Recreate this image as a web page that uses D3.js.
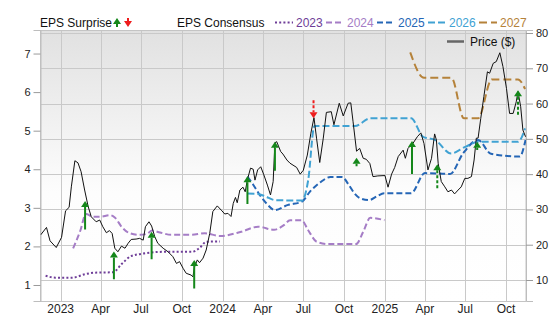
<!DOCTYPE html>
<html lang="en">
<head>
  <meta charset="UTF-8">
  <title>EPS Surprise / Consensus / Price</title>
  <style>
    body { margin: 0; background: #fff; }
    svg { display: block; font-family: "Liberation Sans", Arial, sans-serif; }
  </style>
</head>
<body>
  <svg id="chart" width="556" height="315"></svg>

  <script src="https://d3js.org/d3.v7.min.js"></script>
  <script>
    // price ($), right axis
    const price = [
      ["2022-11-17", 22.8], ["2022-11-30", 24.9], ["2022-12-08", 21.1], ["2022-12-22", 19.2],
      ["2023-01-03", 22.1], ["2023-01-12", 29.6], ["2023-01-20", 30.6], ["2023-01-25", 36.4],
      ["2023-02-02", 43.8], ["2023-02-09", 43.2], ["2023-02-16", 40.7], ["2023-02-24", 35.5],
      ["2023-03-04", 30.8], ["2023-03-11", 27.9], ["2023-03-22", 26.5], ["2023-03-30", 27.0],
      ["2023-04-06", 25.1], ["2023-04-14", 23.4], ["2023-04-21", 24.0], ["2023-04-27", 23.2],
      ["2023-05-03", 19.0], ["2023-05-10", 18.0], ["2023-05-18", 19.6], ["2023-05-26", 19.0],
      ["2023-06-02", 20.4], ["2023-06-09", 21.5], ["2023-06-20", 21.6], ["2023-06-28", 21.8],
      ["2023-07-06", 21.3], ["2023-07-11", 25.1], ["2023-07-19", 26.5], ["2023-07-25", 25.3],
      ["2023-08-01", 22.3], ["2023-08-08", 20.4], ["2023-08-20", 19.0], ["2023-08-31", 18.0],
      ["2023-09-11", 16.6], ["2023-09-19", 14.7], ["2023-09-26", 15.2], ["2023-10-04", 13.3],
      ["2023-10-11", 11.9], ["2023-10-22", 11.4], ["2023-10-26", 10.9], ["2023-10-30", 13.8],
      ["2023-11-05", 15.7], ["2023-11-10", 14.9], ["2023-11-18", 16.2], ["2023-11-25", 18.5],
      ["2023-12-03", 23.2], ["2023-12-10", 29.4], ["2023-12-20", 31.0], ["2023-12-29", 29.8],
      ["2024-01-06", 28.7], ["2024-01-13", 28.9], ["2024-01-20", 28.0], ["2024-01-25", 31.7],
      ["2024-01-30", 33.4], ["2024-02-03", 31.9], ["2024-02-09", 35.5], ["2024-02-16", 36.3],
      ["2024-02-21", 35.0], ["2024-02-26", 38.5], ["2024-03-04", 41.7], ["2024-03-10", 41.4],
      ["2024-03-14", 38.3], ["2024-03-20", 41.2], ["2024-03-27", 42.1], ["2024-04-03", 39.8],
      ["2024-04-11", 36.9], ["2024-04-18", 34.1], ["2024-04-24", 37.9], ["2024-04-28", 48.9],
      ["2024-05-02", 49.2], ["2024-05-11", 46.4], ["2024-05-16", 45.7], ["2024-05-25", 44.0],
      ["2024-06-01", 43.1], ["2024-06-16", 41.9], ["2024-06-24", 40.0], ["2024-07-01", 41.1],
      ["2024-07-10", 45.4], ["2024-07-18", 51.6], ["2024-07-25", 56.0], ["2024-07-31", 50.0],
      ["2024-08-07", 43.3], ["2024-08-15", 50.2], ["2024-08-22", 57.5], ["2024-09-02", 57.7],
      ["2024-09-08", 54.0], ["2024-09-20", 60.1], ["2024-09-29", 56.5], ["2024-10-10", 60.1],
      ["2024-10-16", 60.2], ["2024-10-21", 55.0], ["2024-10-29", 46.5], ["2024-11-05", 47.3],
      ["2024-11-13", 44.5], ["2024-11-20", 44.2], ["2024-11-28", 43.0], ["2024-12-05", 39.3],
      ["2024-12-16", 39.5], ["2025-01-01", 39.6], ["2025-01-08", 36.3], ["2025-01-16", 40.0],
      ["2025-01-23", 41.9], ["2025-01-31", 45.0], ["2025-02-11", 46.8], ["2025-02-16", 44.5],
      ["2025-02-22", 47.3], ["2025-03-05", 48.7], ["2025-03-15", 50.6], ["2025-03-23", 51.7],
      ["2025-03-30", 48.7], ["2025-04-08", 41.2], ["2025-04-16", 44.5], ["2025-04-23", 51.4],
      ["2025-04-27", 49.7], ["2025-05-01", 43.1], ["2025-05-08", 37.9], ["2025-05-16", 36.4],
      ["2025-05-23", 35.0], ["2025-05-31", 35.5], ["2025-06-07", 34.4], ["2025-06-15", 35.5],
      ["2025-06-22", 36.4], ["2025-06-30", 38.8], ["2025-07-07", 38.8], ["2025-07-15", 39.3],
      ["2025-07-21", 44.0], ["2025-07-26", 50.2], ["2025-07-30", 50.2], ["2025-08-05", 55.8],
      ["2025-08-12", 62.0], ["2025-08-20", 69.0], ["2025-08-25", 68.6], ["2025-09-02", 71.4],
      ["2025-09-09", 71.9], ["2025-09-17", 74.4], ["2025-09-24", 70.5], ["2025-10-02", 64.3],
      ["2025-10-09", 57.2], ["2025-10-17", 57.2], ["2025-10-24", 60.5], ["2025-10-28", 63.4],
      ["2025-11-03", 59.1], ["2025-11-08", 52.5], ["2025-11-14", 50.6]
    ];

    // EPS consensus per fiscal year, left axis
    const cons2023 = [
      ["2022-11-28", 1.24], ["2022-12-20", 1.19], ["2023-01-27", 1.19], ["2023-02-25", 1.28],
      ["2023-03-19", 1.32], ["2023-04-29", 1.33], ["2023-05-19", 1.55], ["2023-06-09", 1.75],
      ["2023-07-10", 1.82], ["2023-08-20", 1.86], ["2023-10-24", 1.86], ["2023-11-11", 1.97],
      ["2023-11-25", 2.12], ["2023-12-26", 2.13]
    ];
    const cons2024 = [
      ["2023-01-29", 1.95], ["2023-02-14", 2.40], ["2023-02-27", 2.84], ["2023-03-15", 2.77],
      ["2023-03-31", 2.77], ["2023-04-22", 2.81], ["2023-05-03", 2.75], ["2023-05-19", 2.50],
      ["2023-06-06", 2.34], ["2023-06-29", 2.30], ["2023-07-15", 2.33], ["2023-07-26", 2.41],
      ["2023-08-13", 2.36], ["2023-09-07", 2.30], ["2023-10-22", 2.30], ["2023-11-22", 2.34],
      ["2023-12-26", 2.27], ["2024-02-12", 2.38], ["2024-03-21", 2.51], ["2024-04-26", 2.43],
      ["2024-05-19", 2.56], ["2024-06-01", 2.68], ["2024-06-27", 2.68], ["2024-07-12", 2.42],
      ["2024-07-31", 2.12], ["2024-08-26", 2.06], ["2024-10-28", 2.06], ["2024-11-13", 2.38],
      ["2024-11-29", 2.74], ["2024-12-31", 2.68]
    ];
    const cons2025 = [
      ["2024-02-26", 3.81], ["2024-03-10", 3.60], ["2024-03-25", 3.33], ["2024-04-10", 3.10],
      ["2024-04-28", 2.94], ["2024-05-26", 3.07], ["2024-06-28", 3.16], ["2024-07-16", 3.42],
      ["2024-08-08", 3.66], ["2024-08-31", 3.80], ["2024-09-27", 3.80], ["2024-10-10", 3.62],
      ["2024-10-24", 3.38], ["2024-11-06", 3.25], ["2024-11-26", 3.20], ["2024-12-14", 3.30],
      ["2024-12-30", 3.38], ["2025-03-01", 3.38], ["2025-04-01", 3.90], ["2025-05-28", 3.88],
      ["2025-06-26", 4.41], ["2025-07-30", 4.76], ["2025-08-28", 4.40], ["2025-11-01", 4.33],
      ["2025-11-14", 4.76]
    ];
    const cons2026 = [
      ["2024-02-26", 3.37], ["2024-03-21", 3.36], ["2024-04-06", 3.30], ["2024-04-28", 3.20],
      ["2024-06-28", 3.19], ["2024-07-12", 3.72], ["2024-07-26", 5.12], ["2024-10-25", 5.12],
      ["2024-11-29", 5.32], ["2025-03-01", 5.32], ["2025-03-28", 4.84], ["2025-04-24", 4.76],
      ["2025-05-30", 4.41], ["2025-07-01", 4.58], ["2025-07-30", 4.71], ["2025-10-28", 4.71],
      ["2025-11-13", 5.06]
    ];
    const cons2027 = [
      ["2025-02-27", 7.03], ["2025-03-30", 6.37], ["2025-05-31", 6.37], ["2025-06-28", 5.32],
      ["2025-07-30", 5.32], ["2025-08-30", 6.33], ["2025-10-28", 6.33], ["2025-11-13", 6.08]
    ];

    // EPS surprise arrows: date, from, to, estimated (dashed)
    const surprises = [
      ["2023-02-25", 2.44, 3.18, false], ["2023-05-01", 1.15, 1.87, false],
      ["2023-07-25", 1.67, 2.38, false], ["2023-10-29", 0.91, 1.65, false],
      ["2024-02-26", 3.10, 3.82, false], ["2024-04-28", 3.96, 4.71, false],
      ["2024-07-24", 5.79, 5.32, true],  ["2024-10-29", 4.08, 4.30, false],
      ["2025-03-03", 3.88, 4.73, false], ["2025-04-29", 3.51, 4.13, true],
      ["2025-07-28", 4.50, 4.71, false], ["2025-10-28", 5.41, 6.05, true]
    ];

    const epsTicks = [1, 2, 3, 4, 5, 6, 7];
    const priceTicks = [10, 20, 30, 40, 50, 60, 70, 80];

    const series = [
      { name: "2023", data: cons2023, color: "#6e3d98", dash: "2,2.2" },
      { name: "2024", data: cons2024, color: "#a57dc6", dash: "6,3" },
      { name: "2025", data: cons2025, color: "#2566b6", dash: "6,3" },
      { name: "2026", data: cons2026, color: "#40a2d3", dash: "7,3" },
      { name: "2027", data: cons2027, color: "#b5823a", dash: "8,4" }
    ];

    const parse = d3.timeParse("%Y-%m-%d");
    const L = 40.5, R = 526, T = 30, B = 301;

    const x = d3.scaleTime()
      .domain([new Date(2022, 10, 16, 12), new Date(2025, 10, 15)])
      .range([L, R]);
    const yEps = d3.scaleLinear().domain([0.585, 7.61]).range([B, T]);
    const yPrice = d3.scaleLinear().domain([4.05, 80.85]).range([B, T]);

    const svg = d3.select("#chart");
    const defs = svg.append("defs");
    const grad = defs.append("linearGradient").attr("id", "bg")
      .attr("x1", 0).attr("y1", 0).attr("x2", 0).attr("y2", 1);
    grad.append("stop").attr("offset", "0%").attr("stop-color", "#e1e1e1");
    grad.append("stop").attr("offset", "60%").attr("stop-color", "#fdfdfd");
    grad.append("stop").attr("offset", "100%").attr("stop-color", "#ffffff");
    defs.append("clipPath").attr("id", "clip")
      .append("rect").attr("x", L).attr("y", T).attr("width", R - L).attr("height", B - T);

    svg.append("rect")
      .attr("x", L).attr("y", T).attr("width", R - L).attr("height", B - T)
      .attr("fill", "url(#bg)");

    // grid
    const quarters = d3.timeMonth.every(3).range(x.domain()[0], x.domain()[1]);
    svg.append("g").selectAll("line").data(quarters).join("line")
      .attr("x1", d => Math.round(x(d)) + 0.5).attr("x2", d => Math.round(x(d)) + 0.5)
      .attr("y1", T).attr("y2", B)
      .attr("stroke", "#c9c9c9");
    svg.append("g").selectAll("line").data(priceTicks).join("line")
      .attr("x1", L).attr("x2", R)
      .attr("y1", d => Math.round(yPrice(d)) + 0.5).attr("y2", d => Math.round(yPrice(d)) + 0.5)
      .attr("stroke", "#c9c9c9");

    svg.append("rect")
      .attr("x", L).attr("y", T + 0.5).attr("width", R - L).attr("height", B - T)
      .attr("fill", "none").attr("stroke", "#c4c4c4");

    // left axis
    const gl = svg.append("g").attr("transform", `translate(${L},0)`)
      .call(d3.axisLeft(yEps).tickValues(epsTicks).tickFormat(d3.format("d"))
        .tickSize(7).tickPadding(3));
    // right axis
    const gr = svg.append("g").attr("transform", `translate(${R},0)`)
      .call(d3.axisRight(yPrice).tickValues(priceTicks).tickFormat(d3.format("d"))
        .tickSize(7).tickPadding(3));
    [gl, gr].forEach(g => {
      g.select(".domain").attr("stroke", "#bdbdbd");
      g.selectAll(".tick line").attr("stroke", "#9a9a9a");
      g.selectAll("text").attr("fill", "#222").style("font-size", "11px")
        .style("font-family", "'Liberation Sans', Arial, sans-serif");
    });

    // x labels
    const fmt = d => d.getMonth() === 0 ? d3.timeFormat("%Y")(d) : d3.timeFormat("%b")(d);
    svg.append("g").selectAll("text").data(quarters).join("text")
      .attr("x", d => x(d)).attr("y", 313)
      .attr("text-anchor", "middle")
      .attr("fill", "#222").style("font-size", "12px")
      .text(fmt);

    const plot = svg.append("g").attr("clip-path", "url(#clip)");

    // consensus lines
    series.forEach(s => {
      plot.append("path")
        .datum(s.data)
        .attr("fill", "none")
        .attr("stroke", s.color)
        .attr("stroke-width", 2)
        .attr("stroke-dasharray", s.dash)
        .attr("d", d3.line()
          .x(d => x(parse(d[0])))
          .y(d => yEps(d[1]))
          .curve(d3.curveMonotoneX));
    });

    // price line
    plot.append("path")
      .datum(price)
      .attr("fill", "none")
      .attr("stroke", "#111")
      .attr("stroke-width", 1)
      .attr("stroke-linejoin", "round")
      .attr("d", d3.line()
        .x(d => x(parse(d[0])))
        .y(d => yPrice(d[1])));

    // surprise arrows
    function arrow(g, px, y0, y1, color, dashed) {
      const dir = y1 < y0 ? 1 : -1;   // 1 = pointing up
      const headH = 6, headW = 4;
      g.append("line")
        .attr("x1", px).attr("x2", px)
        .attr("y1", y0).attr("y2", y1 + dir * headH)
        .attr("stroke", color).attr("stroke-width", 2)
        .attr("stroke-dasharray", dashed ? "3,2" : null);
      g.append("path")
        .attr("d", `M${px},${y1} L${px - headW},${y1 + dir * headH} L${px + headW},${y1 + dir * headH} Z`)
        .attr("fill", color);
    }
    surprises.forEach(s => {
      const up = s[2] > s[1];
      arrow(plot, x(parse(s[0])), yEps(s[1]), yEps(s[2]), up ? "#14871a" : "#ee1c1c", s[3]);
    });

    // legend
    const leg = svg.append("g").style("font-size", "12px");
    leg.append("text").attr("x", 40).attr("y", 27).attr("fill", "#111").text("EPS Surprise");
    arrow(leg, 117, 27, 18, "#14871a", false);
    arrow(leg, 128, 18, 27, "#ee1c1c", false);
    leg.append("text").attr("x", 177).attr("y", 27).attr("fill", "#111").text("EPS Consensus");

    series.forEach((s, i) => {
      const x0 = 275 + i * 51;
      leg.append("line")
        .attr("x1", x0).attr("x2", x0 + 18).attr("y1", 22.5).attr("y2", 22.5)
        .attr("stroke", s.color).attr("stroke-width", 2).attr("stroke-dasharray", s.dash);
      leg.append("text").attr("x", x0 + 21).attr("y", 27)
        .attr("fill", s.color).text(s.name);
    });

    leg.append("line")
      .attr("x1", 447).attr("x2", 464).attr("y1", 41.5).attr("y2", 41.5)
      .attr("stroke", "#666").attr("stroke-width", 2.5);
    leg.append("text").attr("x", 470).attr("y", 46).attr("fill", "#111").text("Price ($)");
  </script>
</body>
</html>
